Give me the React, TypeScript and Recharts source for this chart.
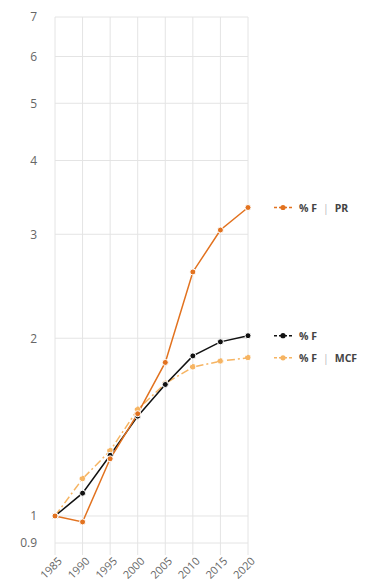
import React from "react";
import { LineChart, Line, XAxis, YAxis, CartesianGrid } from "recharts";

const years = ["1985", "1990", "1995", "2000", "2005", "2010", "2015", "2020"];
const seriesPR = [1.0, 0.977, 1.25, 1.49, 1.82, 2.59, 3.05, 3.33];
const seriesF = [1.0, 1.093, 1.267, 1.476, 1.67, 1.867, 1.972, 2.02];
const seriesMCF = [1.0, 1.156, 1.29, 1.515, 1.677, 1.787, 1.829, 1.853];
const yTicks = [0.9, 1, 2, 3, 4, 5, 6, 7];

const data = years.map((y, i) => ({ year: y, pr: seriesPR[i], f: seriesF[i], mcf: seriesMCF[i] }));

const COLOR_PR = "#E2721F";
const COLOR_F = "#111111";
const COLOR_MCF = "#F6B462";

const makeEndLabel = (name: string, sub: string | null, color: string) => (props: any) => {
  const { x, y, index } = props;
  if (index !== years.length - 1) return null;
  const x0 = x + 26;
  return (
    <g>
      <line x1={x0} y1={y} x2={x0 + 18} y2={y} stroke={color} strokeWidth={1.5} strokeDasharray="3 2" />
      <circle cx={x0 + 9} cy={y} r={2.6} fill={color} />
      <text x={x0 + 25} y={y} dy={4} fontSize={10.5} fontWeight={700} fill="#444" fontFamily="'Open Sans', sans-serif">
        {name}
        {sub && <tspan fill="#bbb" fontWeight={400} dx={6}>|</tspan>}
        {sub && <tspan dx={6}>{sub}</tspan>}
      </text>
    </g>
  );
};

const XTick = (props: any) => {
  const { x, y, payload } = props;
  const ax = x + 1;
  const ay = y - 2;
  return (
    <text
      x={ax}
      y={ay}
      transform={`rotate(-45, ${ax}, ${ay})`}
      textAnchor="end"
      dominantBaseline="hanging"
      fontSize={11}
      fill="#666"
      fontFamily="'Open Sans', sans-serif"
    >
      {payload.value}
    </text>
  );
};

export default function App() {
  return (
    <div style={{ position: "absolute", left: 0, top: 0 }}>
      <LineChart width={366} height={584} data={data} margin={{ top: 17, right: 118, bottom: 0, left: 10 }}>
        <CartesianGrid stroke="#e4e4e4" vertical={true} horizontal={true} />
        <XAxis
          dataKey="year"
          interval={0}
          height={41}
          axisLine={false}
          tickLine={{ stroke: "#e4e4e4" }}
          tickSize={12}
          tick={<XTick />}
        />
        <YAxis
          scale="log"
          domain={[0.9, 7]}
          ticks={yTicks}
          allowDataOverflow
          width={45}
          axisLine={false}
          tickLine={false}
          tick={{ fontSize: 12, fill: "#666", fontFamily: "'Open Sans', sans-serif", dx: -10 }}
          tickFormatter={(v: number) => String(v)}
        />
        <Line
          type="linear"
          dataKey="mcf"
          stroke={COLOR_MCF}
          strokeWidth={1.5}
          strokeDasharray="8 3 2 3"
          dot={{ r: 3, fill: COLOR_MCF, stroke: "#fff", strokeWidth: 1 }}
          isAnimationActive={false}
          label={makeEndLabel("% F", "MCF", COLOR_MCF)}
        />
        <Line
          type="linear"
          dataKey="f"
          stroke={COLOR_F}
          strokeWidth={1.5}
          dot={{ r: 3, fill: COLOR_F, stroke: "#fff", strokeWidth: 1 }}
          isAnimationActive={false}
          label={makeEndLabel("% F", null, COLOR_F)}
        />
        <Line
          type="linear"
          dataKey="pr"
          stroke={COLOR_PR}
          strokeWidth={1.5}
          dot={{ r: 3, fill: COLOR_PR, stroke: "#fff", strokeWidth: 1 }}
          isAnimationActive={false}
          label={makeEndLabel("% F", "PR", COLOR_PR)}
        />
      </LineChart>
    </div>
  );
}
